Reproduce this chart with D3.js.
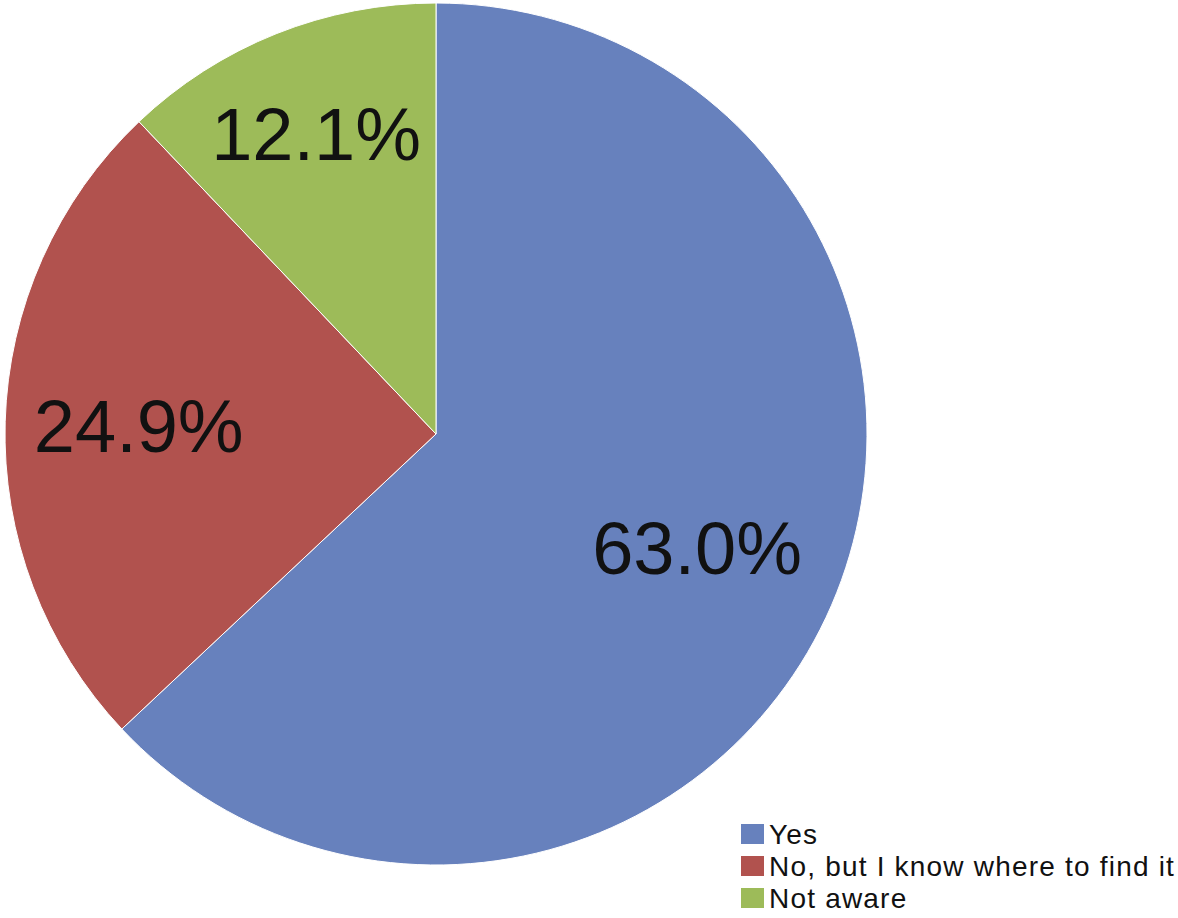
<!DOCTYPE html>
<html>
<head>
<meta charset="utf-8">
<script src="https://cdn.jsdelivr.net/npm/d3@7"></script>
<style>
  body { margin: 0; background: #fff; }
  svg { display: block; font-family: "Liberation Sans", Arial, sans-serif; }
</style>
</head>
<body>
<svg id="chart" width="1178" height="918"></svg>
<script>
const categories = ["Yes", "No, but I know where to find it", "Not aware"];
const shares = [63.0, 24.9, 12.1];
const sliceColors = ["#6781bd", "#b1524e", "#9dbb59"];

function drawPie() {
    const svg = d3.select("#chart");

    const cx = 436, cy = 434;
    const radius = 431;
    // how far out each percentage label sits (fraction of radius), like excel's best fit
    const labelFrac = [0.66, 0.69, 0.75];

    const data = categories.map((c, i) => ({ label: c, value: shares[i] }));

    const color = d3.scaleOrdinal()
        .domain(categories)
        .range(sliceColors);

    const pie = d3.pie()
        .sort(null)
        .value(d => d.value);

    const arc = d3.arc()
        .innerRadius(0)
        .outerRadius(radius);

    const g = svg.append("g")
        .attr("transform", `translate(${cx},${cy})`);

    const arcs = pie(data);

    g.selectAll("path.slice")
        .data(arcs)
        .join("path")
        .attr("class", "slice")
        .attr("d", arc)
        .attr("fill", d => color(d.data.label))
        .attr("stroke", "#fff")
        .attr("stroke-width", 1);

    g.selectAll("text.pct")
        .data(arcs)
        .join("text")
        .attr("class", "pct")
        .attr("transform", (d, i) => {
            const r = radius * labelFrac[i];
            const c = d3.arc().innerRadius(r).outerRadius(r).centroid(d);
            return `translate(${c})`;
        })
        .attr("text-anchor", "middle")
        .attr("dy", "0.36em")
        .attr("font-size", 74)
        .attr("fill", "#111")
        .text(d => d.data.value.toFixed(1) + "%");

    // legend, bottom right
    const legend = svg.append("g")
        .attr("transform", "translate(741, 824)");

    const row = legend.selectAll("g")
        .data(categories)
        .join("g")
        .attr("transform", (d, i) => `translate(0, ${i * 32})`);

    row.append("rect")
        .attr("width", 23)
        .attr("height", 20)
        .attr("fill", d => color(d));

    row.append("text")
        .attr("x", 28)
        .attr("y", 10)
        .attr("dy", "0.36em")
        .attr("font-size", 28)
        .attr("letter-spacing", 1.2)
        .attr("fill", "#111")
        .text(d => d);
}

drawPie();
</script>
</body>
</html>
